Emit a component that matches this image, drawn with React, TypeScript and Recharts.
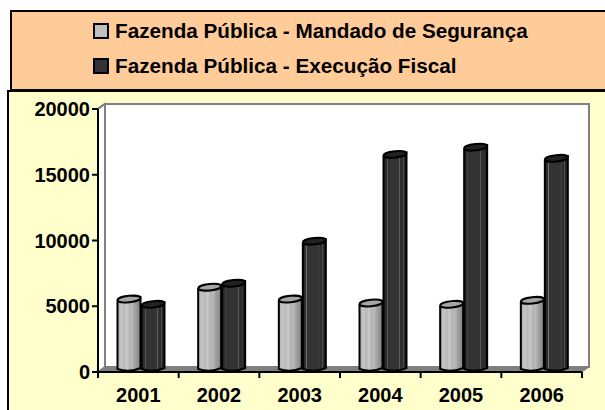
import React from "react";
import { ComposedChart, Bar, XAxis, YAxis, CartesianGrid, Legend, ReferenceArea } from "recharts";

const categories = ["2001", "2002", "2003", "2004", "2005", "2006"];
const mandado = [5400, 6300, 5400, 5100, 5000, 5300];
const execucao = [5000, 6600, 9800, 16400, 16950, 16100];
const yTicks = [0, 5000, 10000, 15000, 20000];
const seriesNames = ["Fazenda Pública - Mandado de Segurança", "Fazenda Pública - Execução Fiscal"];
const data = categories.map((year, i) => ({ year, mandado: mandado[i], execucao: execucao[i] }));

const lightStops: [number, string][] = [[0, "#a8a8a8"], [0.15, "#c6c6c6"], [0.3, "#b8b8b8"], [0.4, "#cacaca"], [0.55, "#b0b0b0"], [0.62, "#bcbcbc"], [0.75, "#a4a4a4"], [1, "#808080"]];
const darkStops: [number, string][] = [[0, "#262626"], [0.14, "#2e2e2e"], [0.16, "#707070"], [0.19, "#333333"], [0.68, "#333333"], [0.7, "#6a6a6a"], [0.73, "#303030"], [0.84, "#2c2c2c"], [0.86, "#5c5c5c"], [0.89, "#282828"], [1, "#1c1c1c"]];

const FONT = '"Liberation Sans", Arial, sans-serif';
const DX = 7, DY = 5;

const Wall = (p: any) => {
  const { x, y, width, height } = p;
  const b = y + height;
  return (
    <g>
      <polygon points={`${x + DX},${y - DY} ${x + width + DX},${y - DY} ${x + width + DX},${b - DY} ${x + DX},${b - DY}`} fill="#fff" stroke="#808080" strokeWidth={2} />
      <polygon points={`${x},${y} ${x + DX},${y - DY} ${x + DX},${b - DY} ${x},${b}`} fill="#fff" stroke="#808080" strokeWidth={2} />
      <polygon points={`${x},${b} ${x + DX},${b - DY} ${x + width + DX},${b - DY} ${x + width},${b}`} fill="#808080" stroke="#808080" strokeWidth={1} />
    </g>
  );
};

const gridLine = (p: any) => {
  const { x1, x2, y1 } = p;
  if (Math.abs(y1 - 372) < 1) return <g />;
  if (Math.abs(y1 - 109) < 1) return <line x1={x1} y1={y1} x2={x1 + DX} y2={y1 - DY} stroke="#000" strokeWidth={2} />;
  return <polyline points={`${x1},${y1} ${x1 + DX},${y1 - DY} ${x2 + DX},${y1 - DY}`} fill="none" stroke="#000" strokeWidth={2} />;
};

const Cylinder = (p: any) => {
  const { x, y, width, height, grad, top } = p;
  const cx = x + 3.5 + width / 2;
  const l = x + 3.5;
  const r = l + width - 1;
  const t = y - 2;
  const b = t + height;
  const ry = 3.2;
  const tilt = 2;
  return (
    <g>
      <path d={`M${l},${t + tilt} L${l},${b - 1} Q${cx},${b + 3} ${r},${b - 2} L${r},${t - tilt} Z`} fill={`url(#${grad})`} stroke="#000" strokeWidth={2} />
      <ellipse cx={cx - 0.5} cy={t} rx={width / 2 - 0.5} ry={ry} transform={`rotate(-6 ${cx} ${t})`} fill={top} stroke="#000" strokeWidth={2} />
    </g>
  );
};

const XTick = (p: any) => {
  const { x, y, index, payload } = p;
  const band = 484 / 6;
  const axisY = 372;
  return (
    <g>
      <line x1={x - band / 2} x2={x - band / 2} y1={axisY} y2={axisY + 6} stroke="#000" strokeWidth={2} />
      {index === categories.length - 1 && <line x1={x + band / 2} x2={x + band / 2} y1={axisY} y2={axisY + 6} stroke="#000" strokeWidth={2} />}
      <text x={x} y={axisY + 30} textAnchor="middle" fill="#000" fontFamily={FONT} fontWeight={700} fontSize={20}>{payload.value}</text>
    </g>
  );
};

const LegendBox = () => (
  <div style={{ position: "absolute", left: 10, top: 10, width: 620, height: 81, boxSizing: "border-box", background: "#ffcc99", border: "2px solid #000", fontFamily: FONT, fontWeight: 700, fontSize: 20.7, color: "#000" }}>
    {seriesNames.map((n, i) => (
      <div key={n} style={{ position: "absolute", left: 81, top: i === 0 ? 6 : 41, height: 26, display: "flex", alignItems: "center", whiteSpace: "nowrap" }}>
        <span style={{ display: "inline-block", boxSizing: "border-box", width: 16, height: 16, marginRight: 6, border: "2px solid #000", background: i === 0 ? "#c0c0c0" : "#333333" }} />
        {n}
      </div>
    ))}
  </div>
);

export default function App() {
  return (
    <div style={{ position: "absolute", left: 0, top: 0, width: 605, height: 410, background: "#fff", overflow: "hidden" }}>
      <div style={{ position: "absolute", left: 7, top: 90, width: 620, height: 340, boxSizing: "border-box", background: "#ffffcc", border: "2px solid #000" }} />
      <ComposedChart
        width={605}
        height={410}
        data={data}
        margin={{ top: 109, right: 23, bottom: 0, left: 0 }}
        barSize={24}
        barGap={0}
        style={{ position: "absolute", left: 0, top: 0 }}
      >
        <defs>
          <linearGradient id="gLight" x1="0" x2="1" y1="0" y2="0">
            {lightStops.map(([o, c]) => <stop key={o} offset={o} stopColor={c} />)}
          </linearGradient>
          <linearGradient id="gDark" x1="0" x2="1" y1="0" y2="0">
            {darkStops.map(([o, c]) => <stop key={o} offset={o} stopColor={c} />)}
          </linearGradient>
        </defs>
        <ReferenceArea y1={0} y2={20000} ifOverflow="visible" shape={Wall} />
        <CartesianGrid vertical={false} horizontal={gridLine} />
        <XAxis dataKey="year" interval={0} tickLine={false} axisLine={{ stroke: "#000", strokeWidth: 2 }} tick={XTick} height={38} />
        <YAxis domain={[0, 20000]} ticks={yTicks} tickSize={6} width={98} axisLine={{ stroke: "#000", strokeWidth: 2 }} tickLine={{ stroke: "#000", strokeWidth: 2 }} tick={{ fill: "#000", fontFamily: FONT, fontWeight: 700, fontSize: 20 }} tickMargin={2} />
        <Bar dataKey="mandado" isAnimationActive={false} shape={(p: any) => <Cylinder {...p} grad="gLight" top="#a6a6a6" />} />
        <Bar dataKey="execucao" isAnimationActive={false} shape={(p: any) => <Cylinder {...p} grad="gDark" top="#222222" />} />
        <Legend content={() => <LegendBox />} wrapperStyle={{ position: "absolute", left: 0, top: 0, width: 0, height: 0, bottom: "auto" }} />
      </ComposedChart>
    </div>
  );
}
